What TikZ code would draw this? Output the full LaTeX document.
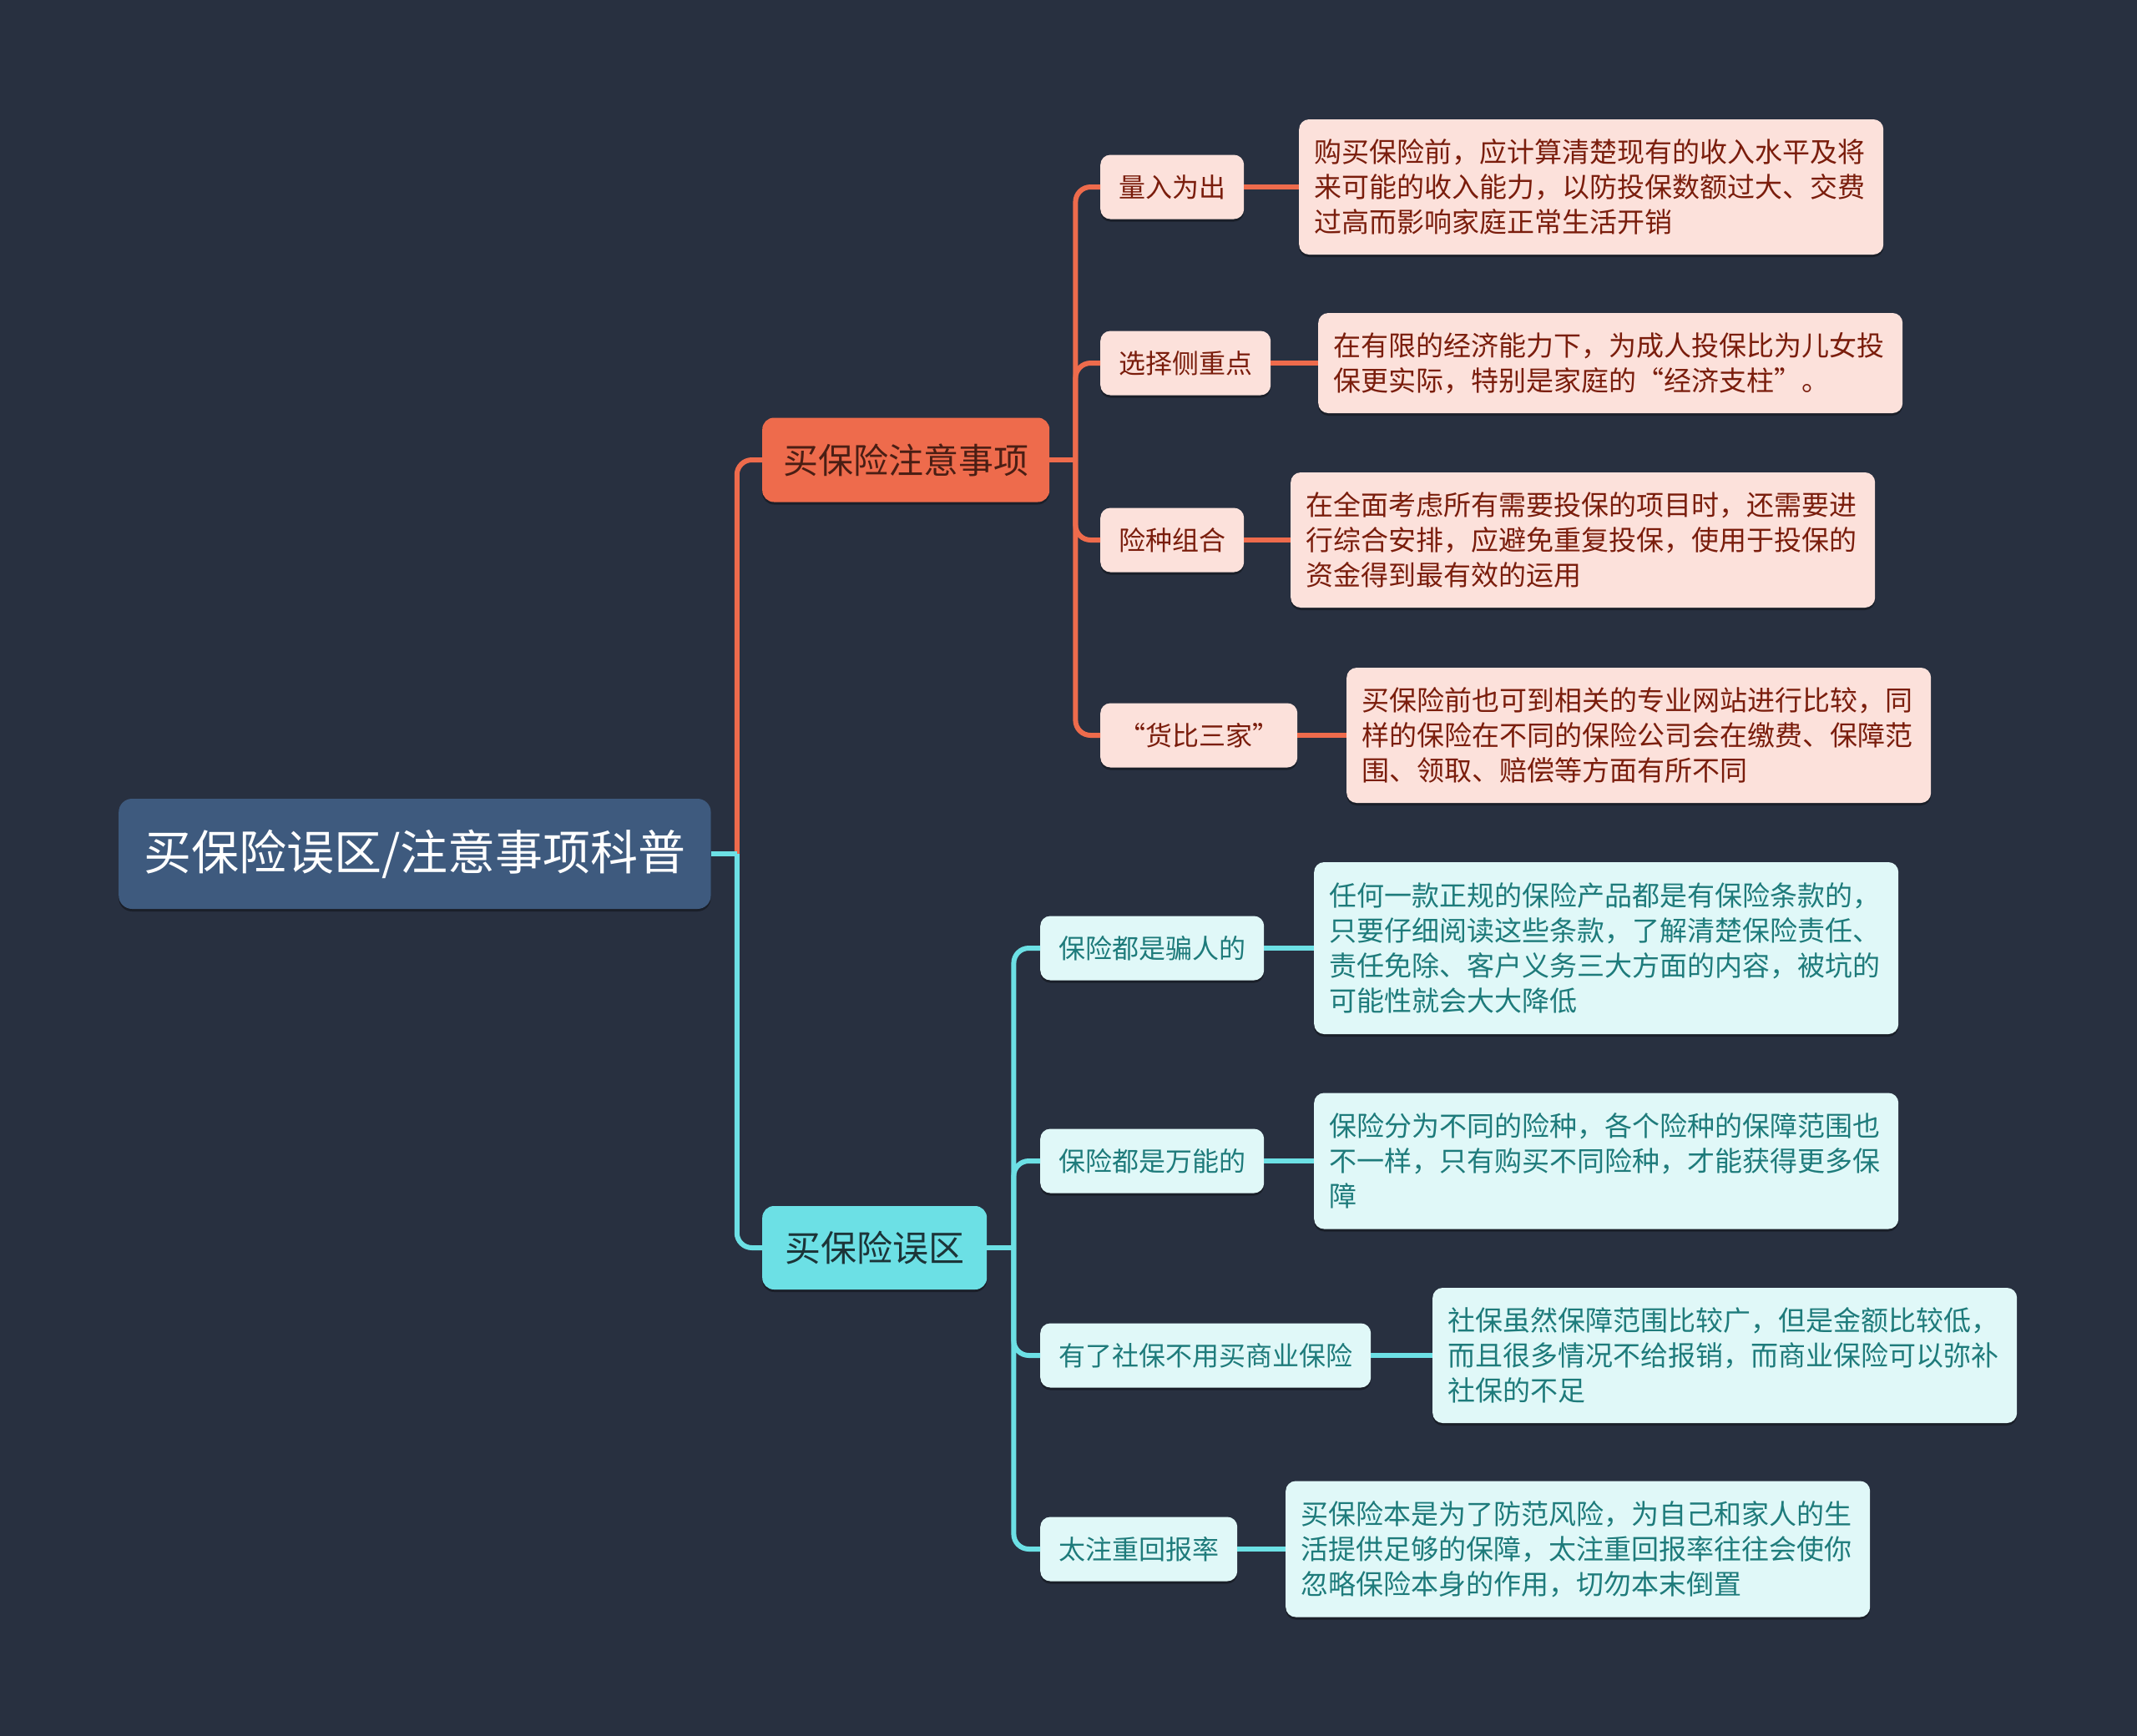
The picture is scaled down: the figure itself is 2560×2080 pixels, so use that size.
\documentclass[tikz,border=0pt]{standalone}
\usepackage{fontspec}
\setmainfont{Noto Sans CJK SC}
\usetikzlibrary{shadows}
\definecolor{bg}{HTML}{283040}
\definecolor{rootc}{HTML}{3E5A7E}
\definecolor{orng}{HTML}{EE6B4C}
\definecolor{orlight}{HTML}{FCE1DB}
\definecolor{ortext}{HTML}{7A1D0C}
\definecolor{ordark}{HTML}{4A1E14}
\definecolor{cyn}{HTML}{6CE0E5}
\definecolor{cylight}{HTML}{E0F8F8}
\definecolor{cytext}{HTML}{1E7B7B}
\definecolor{cydark}{HTML}{1C3438}
\begin{document}
\begin{tikzpicture}[x=1pt,y=-1pt,
  shd/.style={drop shadow={shadow xshift=0pt,shadow yshift=-3pt,opacity=0.35,fill=black}},
  rootbox/.style={shd,fill=rootc,rounded corners=16pt,text=white,font=\fontsize{57}{68}\selectfont,inner xsep=30pt,inner ysep=0pt,minimum height=132pt,anchor=west},
  lonebox/.style={shd,fill=orng,rounded corners=14pt,text=ordark,font=\fontsize{42}{50}\selectfont,inner xsep=25pt,inner ysep=0pt,minimum height=101pt,anchor=west},
  lcbox/.style={shd,fill=cyn,rounded corners=14pt,text=cydark,font=\fontsize{43}{50}\selectfont,inner xsep=27pt,inner ysep=0pt,minimum height=100pt,anchor=west},
  otopic/.style={shd,fill=orlight,rounded corners=12pt,text=ortext,font=\fontsize{32}{40}\selectfont,inner xsep=22pt,inner ysep=0pt,minimum height=77pt,anchor=west},
  ctopic/.style={shd,fill=cylight,rounded corners=12pt,text=cytext,font=\fontsize{32}{40}\selectfont,inner xsep=22pt,inner ysep=0pt,minimum height=77pt,anchor=west},
  odesc/.style={shd,fill=orlight,rounded corners=12pt,text=ortext,font=\fontsize{33}{42}\selectfont,text width=664pt,align=left,inner xsep=18pt,inner ysep=0pt,anchor=west},
  cdesc/.style={shd,fill=cylight,rounded corners=12pt,text=cytext,font=\fontsize{33}{42}\selectfont,text width=664pt,align=left,inner xsep=18pt,inner ysep=0pt,anchor=west},
  oline/.style={draw=orng,line width=6pt,rounded corners=18pt},
  cline/.style={draw=cyn,line width=6pt,rounded corners=18pt}]
\fill[bg] (0,0) rectangle (2560,2080);
\useasboundingbox (0,0) rectangle (2560,2080);

\node[rootbox] (root) at (142,1023) {买保险误区/注意事项科普};
\node[lonebox] (la) at (913,551) {买保险注意事项};
\node[lcbox] (lb) at (913,1495) {买保险误区};

\node[otopic] (a1) at (1318,224) {量入为出};
\node[otopic] (a2) at (1318,435) {选择侧重点};
\node[otopic] (a3) at (1318,647) {险种组合};
\node[otopic] (a4) at (1318,881) {“货比三家”};

\node[odesc,minimum height=162pt] (d1) at (1556,224) {购买保险前，应计算清楚现有的收入水平及将\\来可能的收入能力，以防投保数额过大、交费\\过高而影响家庭正常生活开销};
\node[odesc,minimum height=120pt] (d2) at (1579,435) {在有限的经济能力下，为成人投保比为儿女投\\保更实际，特别是家庭的“经济支柱”。};
\node[odesc,minimum height=162pt] (d3) at (1546,647) {在全面考虑所有需要投保的项目时，还需要进\\行综合安排，应避免重复投保，使用于投保的\\资金得到最有效的运用};
\node[odesc,minimum height=162pt] (d4) at (1613,881) {买保险前也可到相关的专业网站进行比较，同\\样的保险在不同的保险公司会在缴费、保障范\\围、领取、赔偿等方面有所不同};

\node[ctopic] (b1) at (1246,1136) {保险都是骗人的};
\node[ctopic] (b2) at (1246,1391) {保险都是万能的};
\node[ctopic] (b3) at (1246,1624) {有了社保不用买商业保险};
\node[ctopic] (b4) at (1246,1856) {太注重回报率};

\node[cdesc,minimum height=206pt] (e1) at (1574,1136) {任何一款正规的保险产品都是有保险条款的，\\只要仔细阅读这些条款，了解清楚保险责任、\\责任免除、客户义务三大方面的内容，被坑的\\可能性就会大大降低};
\node[cdesc,minimum height=163pt] (e2) at (1574,1391) {保险分为不同的险种，各个险种的保障范围也\\不一样，只有购买不同险种，才能获得更多保\\障};
\node[cdesc,minimum height=162pt] (e3) at (1716,1624) {社保虽然保障范围比较广，但是金额比较低，\\而且很多情况不给报销，而商业保险可以弥补\\社保的不足};
\node[cdesc,minimum height=163pt] (e4) at (1540,1856) {买保险本是为了防范风险，为自己和家人的生\\活提供足够的保障，太注重回报率往往会使你\\忽略保险本身的作用，切勿本末倒置};

\path (root.east) ++(31,0) coordinate (j0);
\path (la.east) ++(31,0) coordinate (ja);
\path (lb.east) ++(32,0) coordinate (jb);

\draw[oline] (j0) |- (la.west);
\draw[cline] (j0) |- (lb.west);
\draw[cline] (root.east) -- (j0);

\foreach \n in {a1,a2,a3,a4} \draw[oline] (ja) |- (\n.west);
\draw[oline] (la.east) -- (ja);
\foreach \n in {b1,b2,b3,b4} \draw[cline] (jb) |- (\n.west);
\draw[cline] (lb.east) -- (jb);

\draw[oline] (a1.east) -- (d1.west);
\draw[oline] (a2.east) -- (d2.west);
\draw[oline] (a3.east) -- (d3.west);
\draw[oline] (a4.east) -- (d4.west);
\draw[cline] (b1.east) -- (e1.west);
\draw[cline] (b2.east) -- (e2.west);
\draw[cline] (b3.east) -- (e3.west);
\draw[cline] (b4.east) -- (e4.west);
\end{tikzpicture}
\end{document}
